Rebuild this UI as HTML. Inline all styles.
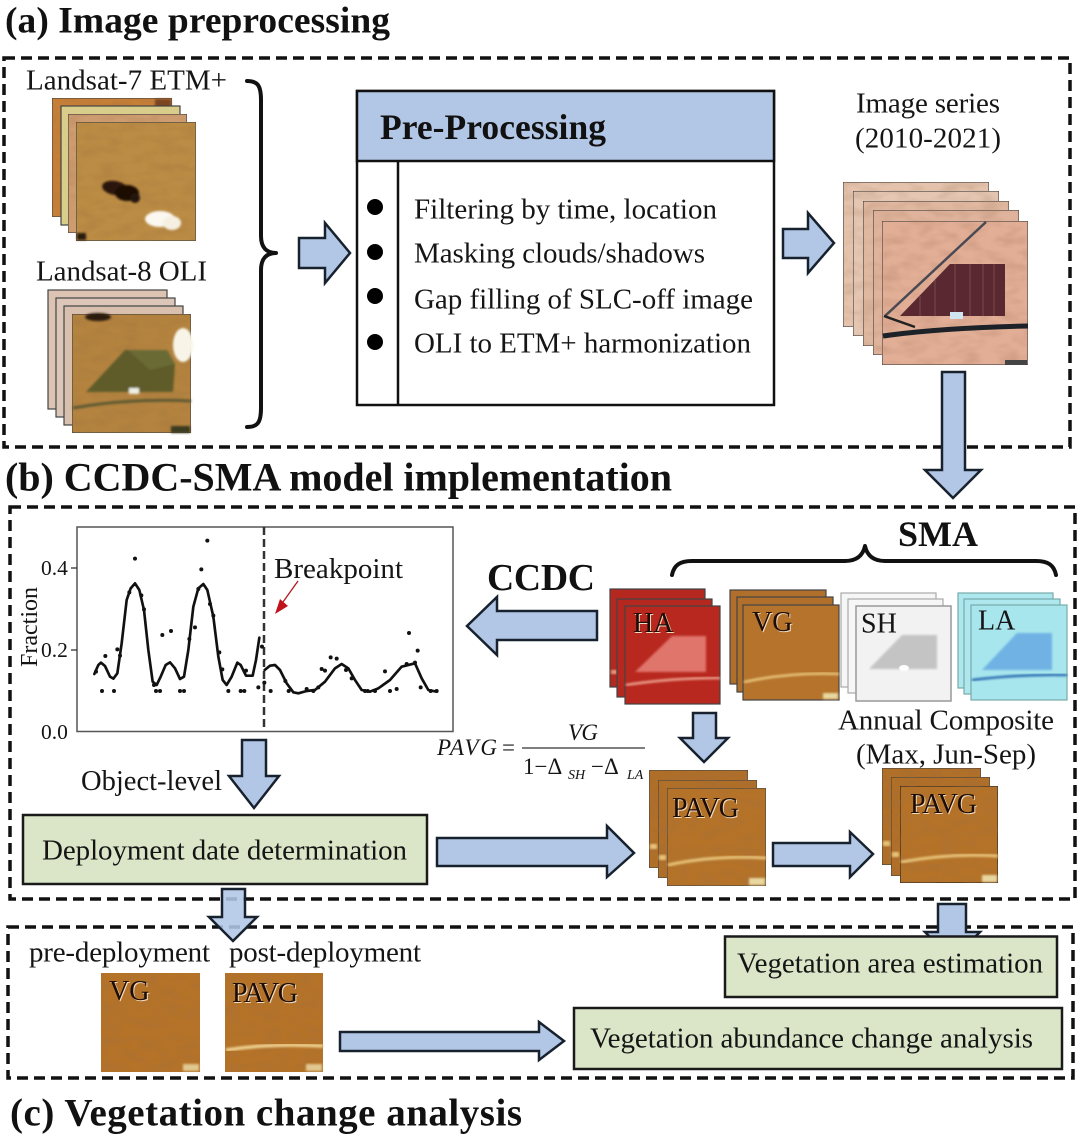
<!DOCTYPE html>
<html><head><meta charset="utf-8"><style>
html,body{margin:0;padding:0;background:#fff}
svg{display:block}
text{font-family:"Liberation Serif",serif;fill:#151515}
.t{font-size:29px;transform:translateY(.7px)}
.h{font-weight:bold;fill:#111;transform:translateY(.5px)}
.a{fill:#b2c7e6;stroke:#18222e;stroke-width:2.5;stroke-linejoin:miter}
.d{fill:none;stroke:#111;stroke-width:3.5;stroke-dasharray:11 6}
.g{fill:#dbe6c8;stroke:#1a1a1a;stroke-width:2.5}
.br{fill:none;stroke:#111;stroke-width:4;stroke-linecap:round;stroke-linejoin:round}
.s{stroke:#444;stroke-width:1.2}
.l{font-size:28px;fill:#1c0d06;filter:drop-shadow(1.2px 1.2px 0 #f2dcc0)}
</style></head><body>
<svg width="1080" height="1137" viewBox="0 0 1080 1137" xmlns="http://www.w3.org/2000/svg">
<defs>
<filter id="b" x="-20%" y="-20%" width="140%" height="140%"><feGaussianBlur stdDeviation="1"/></filter>
<filter id="tex" x="0" y="0" width="100%" height="100%">
<feTurbulence type="fractalNoise" baseFrequency=".05 .11" numOctaves="2" seed="4" result="n"/>
<feColorMatrix in="n" type="matrix" values="0 0 0 0 .3  0 0 0 0 .15  0 0 0 0 .05  .6 0 0 0 -.24" result="m"/>
<feComposite in="m" in2="SourceGraphic" operator="in" result="c"/>
<feMerge><feMergeNode in="SourceGraphic"/><feMergeNode in="c"/></feMerge>
</filter>
</defs>
<rect width="1080" height="1137" fill="#fff"/>

<!-- Section boxes -->
<path class="d" d="M4 58H1070V447H4Z"/>
<path class="d" d="M10 507H1075V899H10Z"/>
<path class="d" d="M8 927H1073V1078H8Z"/>

<text class="h" font-size="37.500" x="5" y="32" textLength="385">(a) Image preprocessing</text>
<text class="h" font-size="40" x="5" y="490" textLength="667">(b) CCDC-SMA model implementation</text>
<text class="h" font-size="39" x="10" y="1125" textLength="512">(c) Vegetation change analysis</text>

<!-- Landsat-7 -->
<text class="t" x="26" y="89" textLength="201">Landsat-7 ETM+</text>
<rect class="s" x="52" y="98" width="120" height="119" fill="#c67f38" filter="url(#tex)"/>
<rect x="155" y="99" width="16" height="12" fill="#7a4520" filter="url(#b)"/>
<rect class="s" x="61" y="106" width="119" height="119" fill="#d9cd8c"/>
<rect class="s" x="68" y="114" width="119" height="119" fill="#cd9c70" filter="url(#tex)"/>
<rect class="s" x="76" y="122" width="120" height="119" fill="#bb8c44" filter="url(#tex)"/>
<g filter="url(#b)">
<ellipse cx="115" cy="188" rx="13" ry="7" fill="#2b1508" transform="rotate(10 115 188)"/>
<ellipse cx="127" cy="193" rx="12" ry="8" fill="#1f0f06"/>
<ellipse cx="135" cy="198" rx="5" ry="5" fill="#22120a"/>
<ellipse cx="160" cy="219" rx="15" ry="8" fill="#faf8f0"/>
<ellipse cx="172" cy="223" rx="9" ry="7" fill="#f6f0e2"/>
<rect x="77" y="233" width="9" height="7" fill="#2b1c10"/>
</g>

<!-- Landsat-8 -->
<text class="t" x="36" y="280" textLength="171">Landsat-8 OLI</text>
<rect class="s" x="48" y="290" width="119" height="119" fill="#dcc3b2"/>
<rect class="s" x="56" y="298" width="119" height="119" fill="#dcc6b8"/>
<rect class="s" x="64" y="306" width="119" height="119" fill="#d8bfae"/>
<rect class="s" x="72" y="314" width="119" height="119" fill="#b4833f" filter="url(#tex)"/>
<g filter="url(#b)">
<ellipse cx="98" cy="317" rx="13" ry="4" fill="#2b1a10"/>
<polygon points="86,392 125,350 167,350 175,364 173,392" fill="#5e5b2a"/>
<polygon points="128,350 167,350 175,364 150,370" fill="#6a6a34"/>
<ellipse cx="183" cy="345" rx="10" ry="17" fill="#f8f5e8"/>
<rect x="129" y="388" width="10" height="6" fill="#eeeee4"/>
<path d="M73 408Q130 398 191 401" stroke="#5f5a30" stroke-width="3" fill="none"/>
<rect x="171" y="426" width="19" height="7" fill="#3b3a20"/>
</g>

<path class="br" d="M247 81C258 81 261 86 261 100V236C261 247 266 253 276 253C266 253 261 259 261 270V408C261 422 258 427 247 427"/>

<polygon class="a" points="299,238 325,238 325,223 350,253 325,283 325,268 299,268"/>

<!-- Pre-processing -->
<rect x="357" y="91" width="417" height="314" fill="#fff" stroke="#111" stroke-width="2.5"/>
<rect x="357" y="91" width="417" height="70" fill="#b2c7e6" stroke="#111" stroke-width="2.5"/>
<line x1="398" y1="161" x2="398" y2="405" stroke="#111" stroke-width="2.5"/>
<text x="380" y="139" font-size="35.500" font-weight="bold" textLength="226" style="fill:#111">Pre-Processing</text>
<circle cx="375" cy="207" r="8" fill="#000"/>
<circle cx="375" cy="252" r="8" fill="#000"/>
<circle cx="375" cy="296" r="8" fill="#000"/>
<circle cx="375" cy="342" r="8" fill="#000"/>
<text class="t" x="414" y="218" textLength="303">Filtering by time, location</text>
<text class="t" x="414" y="262" textLength="291">Masking clouds/shadows</text>
<text class="t" x="414" y="308" textLength="339">Gap filling of SLC-off image</text>
<text class="t" x="414" y="352" textLength="337">OLI to ETM+ harmonization</text>

<polygon class="a" points="783,229 808,229 808,213 834,243 808,273 808,258 783,258"/>

<!-- Image series -->
<text class="t" x="928" y="112" text-anchor="middle" textLength="144">Image series</text>
<text class="t" x="928" y="147" text-anchor="middle" textLength="146">(2010-2021)</text>
<rect class="s" x="843" y="182" width="146" height="145" fill="#e4c2ac" filter="url(#tex)"/>
<rect class="s" x="853" y="191" width="146" height="145" fill="#e4c6b2" filter="url(#tex)"/>
<rect class="s" x="863" y="201" width="146" height="145" fill="#e0b8a0" filter="url(#tex)"/>
<rect class="s" x="873" y="210" width="146" height="145" fill="#e0b49c" filter="url(#tex)"/>
<rect class="s" x="882" y="221" width="146" height="144" fill="#e2ae96" filter="url(#tex)"/>
<g>
<polygon points="900,316 950,264 1005,264 1005,316" fill="#5a2830"/>
<g stroke="#7a4a50" stroke-width="1">
<line x1="955" y1="264" x2="955" y2="316"/><line x1="970" y1="264" x2="970" y2="316"/><line x1="983" y1="264" x2="983" y2="316"/><line x1="994" y1="264" x2="994" y2="316"/><line x1="935" y1="280" x2="935" y2="316"/><line x1="920" y1="296" x2="920" y2="316"/>
</g>
<path d="M885 316L986 222" stroke="#4a4a55" stroke-width="2.500" fill="none"/>
<path d="M884 316L915 327" stroke="#222" stroke-width="2.500" fill="none"/>
<path d="M883 336Q940 328 1028 326" stroke="#1c2228" stroke-width="5" fill="none"/>
<rect x="950" y="312" width="13" height="7" fill="#cfe6f0"/>
<rect x="1005" y="360" width="22" height="5" fill="#444"/>
</g>
<path d="M942 372H965V470H981L953 498L925 470H942Z" class="a"/>

<!-- Chart -->
<rect x="77" y="527" width="376" height="204.500" fill="#fff" stroke="#555" stroke-width="1.5"/>
<line x1="71" y1="568" x2="77" y2="568" stroke="#333" stroke-width="1.3"/>
<line x1="71" y1="650" x2="77" y2="650" stroke="#333" stroke-width="1.3"/>
<text x="41" y="575" font-size="21.500">0.4</text>
<text x="41" y="657" font-size="21.500">0.2</text>
<text x="41" y="739" font-size="21.500">0.0</text>
<text transform="translate(37 667) rotate(-90)" font-size="24" textLength="80">Fraction</text>
<line x1="264" y1="527" x2="264" y2="731" stroke="#333" stroke-width="2.500" stroke-dasharray="8 4"/>
<text x="274" y="578" font-size="29" textLength="129">Breakpoint</text>
<line x1="298" y1="581" x2="283" y2="602" stroke="#b5191e" stroke-width="1.3"/>
<polygon points="275,614 280,599 288,606" fill="#c0141c"/>
<g transform="translate(0 510) scale(.33333)">
<path fill="none" stroke="#111" stroke-width="8" stroke-linejoin="round" stroke-linecap="round" d="M283 492L295 465L303 458L315 468L330 500L340 506L352 490L365 400L380 270L392 235L405 220L418 240L432 300L445 420L458 515L470 525L482 500L497 465L510 457L525 475L540 507L552 500L565 420L580 290L595 235L610 222L622 240L640 320L655 440L668 510L680 525L695 500L712 458L722 465L738 497L758 497L768 450L778 383"/>
<path fill="none" stroke="#111" stroke-width="8" stroke-linejoin="round" stroke-linecap="round" d="M794 480L810 467L825 465L840 480L860 520L880 547L895 550L920 543L945 540L975 515L1005 475L1025 462L1045 475L1065 510L1085 540L1110 545L1135 535L1170 510L1205 470L1245 460L1265 505L1285 540L1310 545"/>
<g fill="#111">
<circle cx="288" cy="485" r="6"/><circle cx="316" cy="438" r="6"/><circle cx="352" cy="418" r="6"/><circle cx="360" cy="437" r="6"/><circle cx="306" cy="543" r="6"/><circle cx="342" cy="543" r="6"/><circle cx="388" cy="247" r="6"/><circle cx="405" cy="146" r="6"/><circle cx="424" cy="256" r="6"/><circle cx="432" cy="298" r="6"/><circle cx="462" cy="525" r="6"/><circle cx="468" cy="543" r="6"/><circle cx="480" cy="543" r="6"/><circle cx="487" cy="375" r="6"/><circle cx="513" cy="363" r="6"/><circle cx="540" cy="543" r="6"/><circle cx="552" cy="543" r="6"/><circle cx="568" cy="387" r="6"/><circle cx="585" cy="352" r="6"/><circle cx="595" cy="237" r="6"/><circle cx="604" cy="178" r="6"/><circle cx="622" cy="92" r="6"/><circle cx="630" cy="282" r="6"/><circle cx="640" cy="317" r="6"/><circle cx="658" cy="427" r="6"/><circle cx="667" cy="478" r="6"/><circle cx="685" cy="543" r="6"/><circle cx="722" cy="543" r="6"/><circle cx="733" cy="543" r="6"/><circle cx="738" cy="482" r="6"/><circle cx="775" cy="532" r="6"/><circle cx="786" cy="410" r="6"/><circle cx="793" cy="518" r="6"/><circle cx="812" cy="543" r="6"/><circle cx="856" cy="513" r="6"/><circle cx="866" cy="543" r="6"/><circle cx="920" cy="537" r="6"/><circle cx="940" cy="543" r="6"/><circle cx="955" cy="532" r="6"/><circle cx="965" cy="477" r="6"/><circle cx="975" cy="482" r="6"/><circle cx="992" cy="442" r="6"/><circle cx="1010" cy="446" r="6"/><circle cx="1038" cy="480" r="6"/><circle cx="1055" cy="505" r="6"/><circle cx="1095" cy="543" r="6"/><circle cx="1103" cy="543" r="6"/><circle cx="1125" cy="543" r="6"/><circle cx="1155" cy="484" r="6"/><circle cx="1170" cy="543" r="6"/><circle cx="1190" cy="537" r="6"/><circle cx="1227" cy="369" r="6"/><circle cx="1220" cy="462" r="6"/><circle cx="1245" cy="458" r="6"/><circle cx="1253" cy="422" r="6"/><circle cx="1262" cy="532" r="6"/><circle cx="1292" cy="543" r="6"/><circle cx="1310" cy="543" r="6"/>
</g>
</g>

<!-- CCDC / SMA -->
<text x="487" y="590" font-size="37.700" font-weight="bold" textLength="108" style="fill:#111">CCDC</text>
<text x="898" y="546" font-size="36" font-weight="bold" textLength="80" style="fill:#111">SMA</text>
<path class="br" d="M672 575C674 565 680 561 692 561H845C857 561 863 555 865 546C867 555 873 561 885 561H1036C1048 561 1054 565 1056 575"/>
<polygon class="a" points="597,611 497,611 497,597 467,626 497,655 497,640 597,640"/>

<!-- HA -->
<rect class="s" x="610" y="589" width="95" height="98" fill="#b5281f"/>
<rect x="611" y="670" width="6" height="4" fill="#e89a80" filter="url(#b)"/>
<rect class="s" x="617" y="599" width="95" height="98" fill="#b5281f"/>
<rect class="s" x="625" y="606" width="95" height="98" fill="#b8281e"/>
<polygon points="635,672 672,636 706,636 706,672" fill="#e0756c" filter="url(#b)"/>
<path d="M626 685Q670 678 720 678" stroke="#eca08e" stroke-width="2.500" fill="none" filter="url(#b)"/>
<text class="l" x="633" y="632">HA</text>

<!-- VG -->
<rect class="s" x="730" y="590" width="96" height="94" fill="#b06f2b"/>
<rect class="s" x="737" y="597" width="96" height="95" fill="#b06f2b"/>
<rect class="s" x="743" y="605" width="96" height="95" fill="#b5732c"/>
<path d="M744 682Q790 672 839 674" stroke="#e8c47a" stroke-width="2.500" fill="none" filter="url(#b)"/>
<rect x="823" y="693" width="15" height="6" fill="#e8d8a0" filter="url(#b)"/>
<text class="l" x="752" y="631">VG</text>

<!-- SH -->
<rect x="841" y="593" width="95" height="94" fill="#f6f6f6" stroke="#aaa" stroke-width="1.2"/>
<rect x="848" y="599" width="95" height="94" fill="#f6f6f6" stroke="#aaa" stroke-width="1.2"/>
<rect x="856" y="606" width="95" height="95" fill="#f2f2f2" stroke="#999" stroke-width="1.500"/>
<polygon points="869,669 902,635 937,635 937,669" fill="#c4c4c4" filter="url(#b)"/>
<ellipse cx="904" cy="668" rx="5" ry="3" fill="#fff"/>
<text class="t" x="861" y="632" style="font-size:28px">SH</text>

<!-- LA -->
<rect x="958" y="593" width="95" height="95" fill="#aee8ee" stroke="#7aa" stroke-width="1.200"/>
<rect x="964" y="599" width="96" height="95" fill="#aee8ee" stroke="#7aa" stroke-width="1.200"/>
<rect x="971" y="605" width="96" height="95" fill="#a8e6ee" stroke="#7aa" stroke-width="1.200"/>
<polygon points="982,670 1017,633 1052,633 1052,670" fill="#6fb2e4" filter="url(#b)"/>
<path d="M972 680Q1020 674 1067 675" stroke="#2c6cb0" stroke-width="2.500" fill="none" filter="url(#b)"/>
<text class="t" x="978" y="629" style="font-size:28px">LA</text>

<text class="t" x="946" y="729" text-anchor="middle" textLength="216">Annual Composite</text>
<text class="t" x="946" y="763" text-anchor="middle" textLength="180">(Max, Jun-Sep)</text>

<polygon class="a" points="693,713 716,713 716,738 728,738 704,762 680,738 693,738"/>

<!-- Formula -->
<text x="437" y="755" font-size="23" font-style="italic" textLength="60">PAVG</text>
<text x="502" y="755" font-size="23">=</text>
<text x="568" y="740" font-size="23" font-style="italic" textLength="30">VG</text>
<line x1="522" y1="748" x2="645" y2="748" stroke="#333" stroke-width="1.300"/>
<text x="523" y="774" font-size="23">1−Δ</text>
<text x="568" y="779" font-size="14" font-style="italic">SH</text>
<text x="591" y="774" font-size="23">−Δ</text>
<text x="627" y="779" font-size="14" font-style="italic">LA</text>

<!-- PAVG stacks -->
<rect class="s" x="649" y="770" width="99" height="98" fill="#b06f2b" filter="url(#tex)"/>
<rect x="650" y="844" width="7" height="5" fill="#e8c47a" filter="url(#b)"/>
<rect class="s" x="658" y="780" width="99" height="98" fill="#b06f2b" filter="url(#tex)"/>
<rect x="659" y="855" width="7" height="5" fill="#e8c47a" filter="url(#b)"/>
<rect class="s" x="667" y="788" width="99" height="98" fill="#b5732c" filter="url(#tex)"/>
<path d="M668 865Q715 855 766 858" stroke="#e8c47a" stroke-width="3" fill="none" filter="url(#b)"/>
<rect x="749" y="878" width="16" height="7" fill="#e8d8a0" filter="url(#b)"/>
<text class="l" x="672" y="817" textLength="67">PAVG</text>

<rect class="s" x="882" y="768" width="99" height="97" fill="#b06f2b" filter="url(#tex)"/>
<rect x="883" y="841" width="7" height="5" fill="#e8c47a" filter="url(#b)"/>
<rect class="s" x="891" y="777" width="99" height="99" fill="#b06f2b" filter="url(#tex)"/>
<rect x="892" y="852" width="7" height="5" fill="#e8c47a" filter="url(#b)"/>
<rect x="900" y="786" width="98" height="97" fill="#b5732c" stroke="#222" stroke-width="1.200" filter="url(#tex)"/>
<path d="M901 862Q950 853 998 856" stroke="#e8c47a" stroke-width="3" fill="none" filter="url(#b)"/>
<rect x="982" y="875" width="15" height="7" fill="#e8d8a0" filter="url(#b)"/>
<text class="l" x="910" y="813" textLength="67">PAVG</text>

<!-- Object-level and deployment -->
<text x="81" y="790" font-size="28.500" textLength="141">Object-level</text>
<polygon class="a" points="242,740 266,740 266,776 279,776 254,808 229,776 242,776"/>
<rect class="g" x="23" y="815" width="404" height="69"/>
<text class="t" x="42" y="859" textLength="365">Deployment date determination</text>
<polygon class="a" points="437,838 607,838 607,826 634,853 607,877 607,866 437,866"/>
<polygon class="a" points="773,843 850,843 850,832 873,854 850,877 850,866 773,866"/>

<!-- Connecting arrows -->
<polygon class="a" style="fill-opacity:.88" points="222,889 245,889 245,917 257,917 233,941 209,917 222,917"/>
<polygon class="a" points="938,904 966,904 966,932 980,932 972,940 933,940 925,932 938,932"/>
<rect class="g" x="725" y="936.500" width="332" height="60.500"/>
<text class="t" x="737" y="972" textLength="306">Vegetation area estimation</text>

<!-- Section c -->
<text class="t" x="29" y="961" textLength="181">pre-deployment</text>
<text class="t" x="229" y="961" textLength="192">post-deployment</text>
<rect x="101" y="973" width="99" height="99" fill="#b5732c" filter="url(#tex)"/>
<rect x="183" y="1064" width="16" height="7" fill="#e0c890" filter="url(#b)"/>
<text class="l" x="109" y="1000">VG</text>
<rect x="225" y="973" width="98" height="99" fill="#b5732c" filter="url(#tex)"/>
<path d="M226 1050Q270 1043 323 1046" stroke="#edcf8e" stroke-width="3.500" fill="none" filter="url(#b)"/>
<rect x="306" y="1064" width="16" height="7" fill="#e0c890" filter="url(#b)"/>
<text class="l" x="232" y="1002" textLength="66">PAVG</text>
<polygon class="a" points="340,1032 539,1032 539,1022 564,1041 539,1060 539,1051 340,1051"/>
<rect class="g" x="574" y="1008" width="488" height="61"/>
<text class="t" x="590" y="1047" textLength="443">Vegetation abundance change analysis</text>
</svg>
</body></html>
